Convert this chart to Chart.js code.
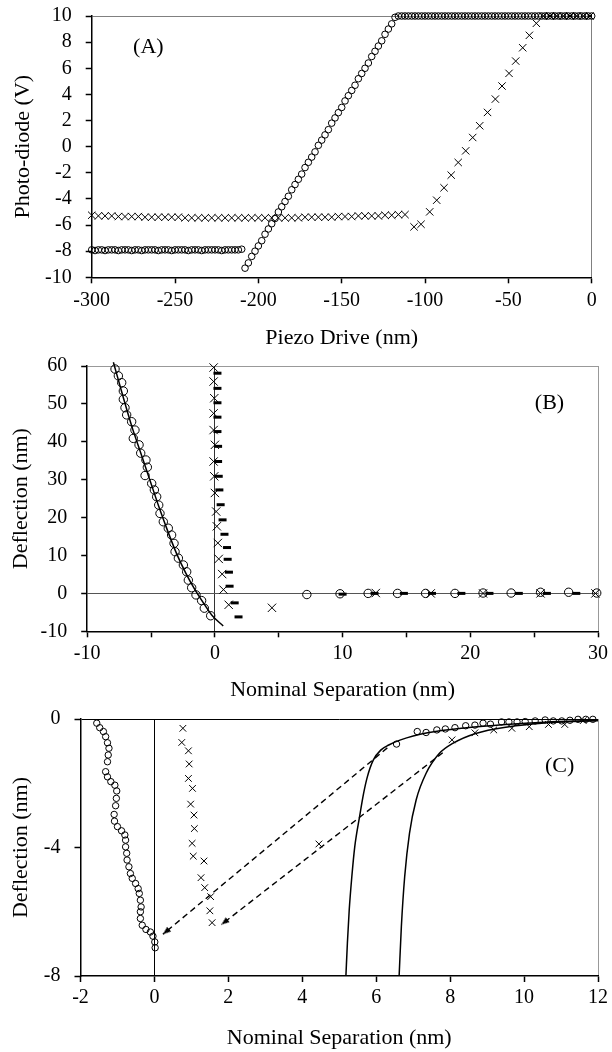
<!DOCTYPE html>
<html>
<head>
<meta charset="utf-8">
<script src="https://cdn.jsdelivr.net/npm/chart.js@4.4.0/dist/chart.umd.min.js"></script>
<style>
  html, body { margin: 0; padding: 0; background: #fff; }
  #page { position: relative; width: 612px; height: 1052px; overflow: hidden; }
  canvas { position: absolute; left: 0; }
</style>
</head>
<body>
<div id="page">
  <canvas id="chartA" width="612" height="370" style="top:-10px"></canvas>
  <canvas id="chartB" width="612" height="365" style="top:340px"></canvas>
  <canvas id="chartC" width="612" height="359" style="top:693px"></canvas>
</div>
<script>
// ---- Panel A : photo-diode vs piezo drive ----
var aXTicks = [-300, -250, -200, -150, -100, -50, 0];
var aYTicks = [-10, -8, -6, -4, -2, 0, 2, 4, 6, 8, 10];

var aApproachX = [
  -300,-298,-296,-294,-292,-290,-288,-286,-284,-282,-280,-278,-276,-274,-272,-270,
  -268,-266,-264,-262,-260,-258,-256,-254,-252,-250,-248,-246,-244,-242,-240,-238,
  -236,-234,-232,-230,-228,-226,-224,-222,-220,-218,-216,-214,-212,-210,
  -208,-206,-204,-202,-200,-198,-196,-194,-192,-190,-188,-186,-184,-182,-180,-178,
  -176,-174,-172,-170,-168,-166,-164,-162,-160,-158,-156,-154,-152,-150,-148,-146,
  -144,-142,-140,-138,-136,-134,-132,-130,-128,-126,-124,-122,-120,-118,
  -116,-114,-112,-110,-108,-106,-104,-102,-100,-98,-96,-94,-92,-90,-88,-86,
  -84,-82,-80,-78,-76,-74,-72,-70,-68,-66,-64,-62,-60,-58,-56,-54,
  -52,-50,-48,-46,-44,-42,-40,-38,-36,-34,-32,-30,-28,-26,-24,-22,
  -20,-18,-16,-14,-12,-10,-8,-6,-4,-2,0
];
var aApproachY = [
  -7.9,-7.95,-7.9,-7.9,-7.95,-7.9,-7.9,-7.9,-7.95,-7.9,
  -7.9,-7.9,-7.95,-7.9,-7.9,-7.95,-7.9,-7.9,-7.9,-7.9,
  -7.95,-7.9,-7.9,-7.9,-7.95,-7.9,-7.9,-7.9,-7.9,-7.95,
  -7.9,-7.9,-7.9,-7.95,-7.9,-7.9,-7.9,-7.9,-7.9,-7.95,
  -7.9,-7.9,-7.9,-7.9,-7.9,-7.85,
  -9.3,-8.9,-8.4,-8.0,-7.6,-7.2,-6.7,-6.3,-5.9,-5.5,
  -5.0,-4.6,-4.2,-3.8,-3.3,-2.9,-2.5,-2.1,-1.6,-1.2,
  -0.8,-0.4,0.1,0.5,0.9,1.3,1.8,2.2,2.6,3.0,
  3.5,3.9,4.3,4.7,5.2,5.6,6.0,6.4,6.9,7.3,
  7.7,8.1,8.6,9.0,9.4,9.9,
  10,10,10,10,10,10,10,10,10,10,
  10,10,10,10,10,10,10,10,10,10,
  10,10,10,10,10,10,10,10,10,10,
  10,10,10,10,10,10,10,10,10,10,
  10,10,10,10,10,10,10,10,10,10,
  10,10,10,10,10,10,10,10,10
];

var aRetractX = [
  -300,-296,-292,-288,-284,-280,-276,-272,-268,-264,-260,-256,-252,-248,-244,-240,
  -236,-232,-228,-224,-220,-216,-212,-208,-204,-200,-196,-192,-188,-184,-180,-176,
  -172,-168,-164,-160,-156,-152,-148,-144,-140,-136,-132,-128,-124,-120,-116,-112,
  -106.6,-102.4,-97.2,-93.0,-88.6,-84.3,-80.1,-75.6,-71.4,-67.2,-62.5,-57.8,
  -53.8,-49.6,-45.6,-41.4,-37.4,-33.2,
  -29,-25,-21,-17,-13,-9,-5,-1
];
var aRetractY = [
  -5.25,-5.3,-5.3,-5.3,-5.35,-5.35,-5.35,-5.35,
  -5.4,-5.4,-5.4,-5.4,-5.4,-5.4,-5.45,-5.45,
  -5.45,-5.45,-5.45,-5.45,-5.45,-5.45,-5.45,-5.45,
  -5.45,-5.45,-5.45,-5.45,-5.45,-5.45,-5.45,-5.45,
  -5.4,-5.4,-5.4,-5.4,-5.4,-5.35,-5.35,-5.35,
  -5.3,-5.3,-5.3,-5.3,-5.25,-5.25,-5.2,-5.2,
  -6.14,-5.94,-4.99,-4.10,-3.15,-2.18,-1.21,-0.32,0.70,1.60,2.62,3.64,
  4.64,5.61,6.55,7.57,8.52,9.44,
  10,10,10,10,10,10,10,10
];

// ---- Panel B : deflection vs nominal separation ----
var bXTicks = [-10, -5, 0, 5, 10, 15, 20, 25, 30];
var bXLabels = [-10, 0, 10, 20, 30];
var bYTicks = [-10, 0, 10, 20, 30, 40, 50, 60];

var bApproachX = [
  -7.82,-7.56,-7.30,-7.17,-7.17,-7.04,-6.91,-6.52,-6.26,-6.39,-5.94,-5.81,
  -5.40,-5.29,-5.47,-4.95,-4.74,-4.56,-4.40,-4.30,-4.04,-3.65,-3.39,-3.20,
  -3.12,-2.86,-2.47,-2.21,-2.08,-1.82,-1.48,-1.04,-0.83,-0.33,
  7.2,9.8,12.0,14.3,16.5,18.8,21.0,23.2,25.5,27.7,29.9
];
var bApproachY = [
  59.2,57.4,55.6,53.4,51.2,49.0,47.1,45.3,43.1,40.9,39.2,37.0,
  35.2,33.3,31.1,29.0,27.3,25.5,23.3,21.1,18.9,17.2,15.4,13.2,
  11.0,9.3,7.5,5.7,3.5,1.5,-0.4,-1.9,-3.9,-5.9,
  -0.3,-0.1,0,0,0,0,0.1,0.1,0.3,0.3,0.1
];
var bRetractX = [
  -0.1,-0.1,-0.05,-0.1,-0.1,0.0,-0.1,-0.05,0.0,0.1,0.15,0.23,0.3,0.57,0.67,1.08,
  4.47,12.6,16.9,21.0,25.5,29.8
];
var bRetractY = [
  59.6,55.9,51.5,47.5,43.1,39.2,34.8,30.9,26.5,21.6,17.7,13.3,9.1,5.1,1.0,-3.0,
  -3.8,0.1,0,0,0,0
];
var bThirdX = [
  0.2,0.2,0.2,0.2,0.2,0.25,0.25,0.3,0.35,0.45,0.6,0.75,0.95,1.0,1.1,1.15,1.55,1.85,
  10.0,12.5,14.8,17.0,19.3,21.5,23.8,26.0,28.3
];
var bThirdY = [
  58.1,54.1,50.3,46.5,42.7,38.8,34.8,30.9,27.3,23.4,19.4,15.6,12.1,9.0,5.6,1.9,-2.5,-6.2,
  -0.2,0,0,0,0,0,0,0,0
];
var bFitX = [-7.95,-7.2,-6.5,-5.8,-5.1,-4.4,-3.7,-3.0,-2.3,-1.6,-0.9,-0.2,0.65];
var bFitY = [61,52,44,37,30,23,16.5,10.5,5.5,1.2,-2.5,-5.9,-8.6];

// ---- Panel C : zoom of the jump-in region ----
var cXTicks = [-2, 0, 2, 4, 6, 8, 10, 12];
var cYTicks = [-8, -4, 0];

var cApproachX = [
  -1.56,-1.48,-1.38,-1.32,-1.27,-1.23,-1.25,-1.27,-1.32,-1.27,-1.18,-1.07,-1.02,-1.03,
  -1.05,-1.09,-1.08,-1.00,-0.89,-0.80,-0.78,-0.78,-0.75,-0.74,-0.69,-0.65,-0.60,-0.51,
  -0.44,-0.41,-0.38,-0.36,-0.38,-0.38,-0.33,-0.23,-0.11,-0.04,0.01,0.02,
  6.55,7.11,7.35,7.64,7.87,8.13,8.42,8.67,8.89,9.09,9.39,9.59,9.81,10.03,10.30,10.57,
  10.79,11.02,11.24,11.46,11.67,11.86
];
var cApproachY = [
  -0.13,-0.27,-0.39,-0.55,-0.74,-0.91,-1.12,-1.33,-1.64,-1.80,-1.95,-2.06,-2.24,-2.47,
  -2.70,-2.97,-3.18,-3.35,-3.48,-3.61,-3.77,-3.98,-4.18,-4.39,-4.60,-4.81,-4.96,-5.12,
  -5.28,-5.43,-5.64,-5.85,-6.00,-6.21,-6.42,-6.55,-6.63,-6.76,-6.94,-7.12,
  -0.78,-0.39,-0.42,-0.34,-0.31,-0.27,-0.21,-0.19,-0.13,-0.16,-0.09,-0.09,-0.09,-0.08,
  -0.06,-0.03,-0.06,-0.06,-0.04,-0.01,-0.01,-0.01
];
var cRetractX = [
  0.77,0.74,0.92,0.94,0.92,1.03,0.98,1.07,1.08,1.02,1.05,1.34,1.26,1.36,1.52,1.50,1.56,
  4.45,8.05,8.67,9.18,9.67,10.14,10.66,11.10,11.60
];
var cRetractY = [
  -0.29,-0.73,-0.99,-1.40,-1.85,-2.16,-2.65,-2.99,-3.41,-3.87,-4.27,-4.42,-4.94,-5.25,-5.53,-5.97,-6.34,
  -3.89,-0.65,-0.43,-0.34,-0.29,-0.24,-0.17,-0.17,-0.05
];
var cFit1X = [5.18,5.22,5.27,5.34,5.42,5.55,5.66,5.76,5.92,6.13,6.34,6.66,7.39,8.45,9.5,10.55,12.0];
var cFit1Y = [-8.0,-6.98,-5.94,-4.91,-3.97,-3.04,-2.31,-1.80,-1.28,-0.96,-0.81,-0.65,-0.43,-0.27,-0.17,-0.10,-0.05];
var cFit2X = [6.62,6.68,6.77,6.90,7.08,7.35,7.71,8.07,8.69,9.59,10.48,12.0];
var cFit2Y = [-8.0,-6.47,-4.91,-3.56,-2.52,-1.69,-1.07,-0.76,-0.45,-0.24,-0.13,-0.05];
var cArrow1X = [6.3, 0.23];
var cArrow1Y = [-0.9, -6.7];
var cArrow2X = [7.8, 1.81];
var cArrow2Y = [-1.05, -6.4];

var SERIF = '"Liberation Serif", "Times New Roman", serif';

function pairs(xs, ys) {
  return xs.map(function (x, i) { return { x: x, y: ys[i] }; });
}

function gridColorFor(lines) {
  return function (ctx) {
    var c = ctx.tick ? lines[ctx.tick.value] : null;
    return c || 'rgba(0,0,0,0)';
  };
}

function makeAxis(o) {
  return {
    type: 'linear',
    position: o.position,
    min: o.min,
    max: o.max,
    afterBuildTicks: function (scale) {
      scale.ticks = o.ticks.map(function (v) { return { value: v }; });
    },
    afterFit: function (scale) {
      if (o.position === 'left') scale.width = o.size;
      else scale.height = o.size;
    },
    ticks: {
      color: '#000',
      font: { family: SERIF, size: 20 },
      padding: o.pad,
      autoSkip: false,
      maxRotation: 0,
      minRotation: 0,
      callback: function (v) { return o.labels.indexOf(v) >= 0 ? String(v) : ''; }
    },
    grid: {
      color: gridColorFor(o.lines),
      lineWidth: 1,
      drawTicks: true,
      tickLength: 6,
      tickColor: '#000',
      tickWidth: 1.5
    },
    border: { display: true, color: '#000', width: 1.5 },
    title: {
      display: true,
      text: o.title,
      color: '#000',
      font: { family: SERIF, size: 22 },
      padding: o.titlePad
    }
  };
}

var panelLabel = {
  id: 'panelLabel',
  afterDatasetsDraw: function (chart, args, opts) {
    var ctx = chart.ctx;
    ctx.save();
    ctx.font = '22px ' + SERIF;
    ctx.fillStyle = '#000';
    ctx.textAlign = 'center';
    ctx.textBaseline = 'middle';
    ctx.fillText(opts.text, chart.scales.x.getPixelForValue(opts.x), chart.scales.y.getPixelForValue(opts.y));
    ctx.restore();
  }
};

// arrow head image: tip at the centre of the canvas, pointing up (rotated per arrow)
var arrowHead = document.createElement('canvas');
arrowHead.width = 18;
arrowHead.height = 18;
(function () {
  var g = arrowHead.getContext('2d');
  g.fillStyle = '#000';
  g.beginPath();
  g.moveTo(9, 9);
  g.lineTo(12, 17);
  g.lineTo(6, 17);
  g.closePath();
  g.fill();
})();

function circles(data, r) {
  return { data: data, showLine: false, clip: false, pointStyle: 'circle', pointRadius: r,
    pointBorderWidth: 1, pointBorderColor: '#000', pointBackgroundColor: 'rgba(0,0,0,0)' };
}
function crosses(data, r) {
  return { data: data, showLine: false, clip: false, pointStyle: 'crossRot', pointRadius: r,
    pointBorderWidth: 1, pointBorderColor: '#000', pointBackgroundColor: '#000' };
}
function fitLine(data) {
  return { data: data, showLine: true, clip: false, pointRadius: 0, borderColor: '#000',
    borderWidth: 1.5, cubicInterpolationMode: 'monotone' };
}
function arrow(data, headAngle) {
  return { data: data, showLine: true, clip: false, tension: 0, borderColor: '#000', borderWidth: 1.4,
    borderDash: [6, 4],
    pointStyle: function (ctx) { return ctx.dataIndex === 1 ? arrowHead : 'circle'; },
    pointRadius: function (ctx) { return ctx.dataIndex === 1 ? 4 : 0; },
    pointRotation: headAngle };
}

// y-axis tick labels force a top gap of half a label line plus tick padding (12 + 14),
// so every panel uses that gap and its canvas is shifted to put the plot top in place
function makeChart(id, datasets, xAxis, yAxis, padding, label) {
  return new Chart(document.getElementById(id).getContext('2d'), {
    type: 'scatter',
    data: { datasets: datasets },
    options: {
      responsive: false,
      animation: false,
      devicePixelRatio: 1,
      layout: { padding: padding },
      plugins: { legend: { display: false }, tooltip: { enabled: false }, panelLabel: label },
      scales: { x: xAxis, y: yAxis }
    },
    plugins: [panelLabel]
  });
}

// Panel A
makeChart('chartA',
  [circles(pairs(aApproachX, aApproachY), 3.3), crosses(pairs(aRetractX, aRetractY), 5.2)],
  makeAxis({ position: 'bottom', min: -300, max: 0, ticks: aXTicks, labels: aXTicks, size: 82.7, pad: 5,
    lines: { 0: '#808080' }, title: 'Piezo Drive (nm)', titlePad: { top: 0, bottom: 9 } }),
  makeAxis({ position: 'left', min: -10, max: 10, ticks: aYTicks, labels: aYTicks, size: 91.7, pad: 14,
    lines: { 10: '#808080' }, title: 'Photo-diode (V)', titlePad: { top: 10, bottom: 0 } }),
  { top: 26, right: 20.3, left: 0, bottom: 0 },
  { text: '(A)', x: -266, y: 7.6 });

// Panel B
makeChart('chartB',
  [fitLine(pairs(bFitX, bFitY)), circles(pairs(bApproachX, bApproachY), 4.2),
   crosses(pairs(bRetractX, bRetractY), 5.9),
   { data: pairs(bThirdX, bThirdY), showLine: false, clip: false, pointStyle: 'line', pointRadius: 4,
     pointBorderWidth: 3, pointBorderColor: '#000' }],
  makeAxis({ position: 'bottom', min: -10, max: 30, ticks: bXTicks, labels: bXLabels, size: 73.7, pad: 4,
    lines: { 0: '#333', 30: '#999' }, title: 'Nominal Separation (nm)', titlePad: { top: 0, bottom: 2 } }),
  makeAxis({ position: 'left', min: -10, max: 60, ticks: bYTicks, labels: bYTicks, size: 87.2, pad: 14,
    lines: { 0: '#555', 60: '#999' }, title: 'Deflection (nm)', titlePad: { top: 8, bottom: 0 } }),
  { top: 26, right: 13.7, left: 0, bottom: 0 },
  { text: '(B)', x: 26.2, y: 50.2 });

// Panel C
makeChart('chartC',
  [fitLine(pairs(cFit1X, cFit1Y)), fitLine(pairs(cFit2X, cFit2Y)),
   arrow(pairs(cArrow1X, cArrow1Y), 230.5), arrow(pairs(cArrow2X, cArrow2Y), 232.4),
   circles(pairs(cApproachX, cApproachY), 3.2), crosses(pairs(cRetractX, cRetractY), 4.7)],
  makeAxis({ position: 'bottom', min: -2, max: 12, ticks: cXTicks, labels: cXTicks, size: 76, pad: 4,
    lines: { 0: '#000', 12: '#999' }, title: 'Nominal Separation (nm)', titlePad: { top: 0, bottom: 1 } }),
  makeAxis({ position: 'left', min: -8, max: 0, ticks: cYTicks, labels: cYTicks, size: 80.5, pad: 14,
    lines: { 0: '#000' }, title: 'Deflection (nm)', titlePad: { top: 8, bottom: 0 } }),
  { top: 26, right: 11, left: 0, bottom: 0 },
  { text: '(C)', x: 10.96, y: -1.46 });
</script>
</body>
</html>
